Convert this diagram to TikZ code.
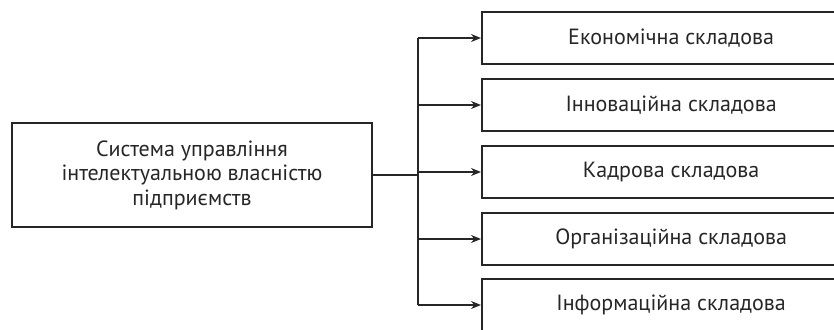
\documentclass[tikz,border=0pt]{standalone}
\usepackage{fontspec}
\setmainfont{PT Sans}
\usetikzlibrary{arrows.meta}
\begin{document}
\begin{tikzpicture}[x=1pt,y=1pt,
  box/.style={draw=black!85, line width=2.2pt, inner sep=0pt, font=\fontsize{22}{24.5}\selectfont, text=black!85},
  part/.style={box, minimum width=378pt, minimum height=52pt, anchor=west},
  conn/.style={draw=black!85, line width=1.8pt},
  arr/.style={conn, -{Stealth[length=10pt,width=8pt]}}]
\useasboundingbox (0,0) rectangle (834,-329);
\node[box, minimum width=360pt, minimum height=104pt, align=center] (sys) at (192,-175)
  {Система управління\\інтелектуальною власністю\\підприємств};
\node[part] (p1) at (481,-38) {Економічна складова};
\node[part] (p2) at (481,-105) {Інноваційна складова};
\node[part] (p3) at (481,-172) {Кадрова складова};
\node[part] (p4) at (481,-239) {Організаційна складова};
\node[part] (p5) at (481,-305) {Інформаційна складова};
\coordinate (top) at (418,-38);
\coordinate (bot) at (418,-305);
\draw[conn] (top) -- (bot);
\draw[conn] (sys.east) -- (sys.east -| top);
\foreach \i in {1,...,5} \draw[arr] (p\i.west -| top) -- (p\i.west);
\end{tikzpicture}
\end{document}
